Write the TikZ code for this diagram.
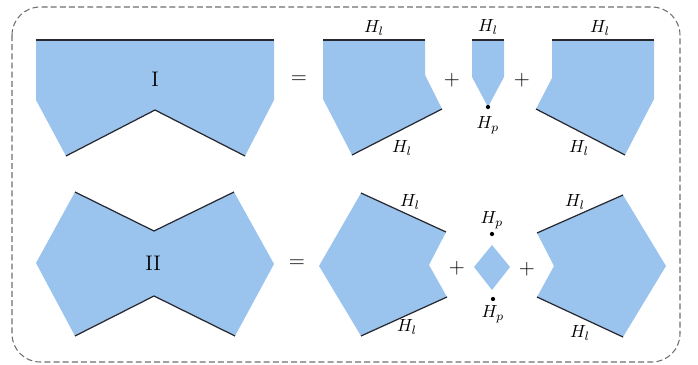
\documentclass[tikz,border=0pt]{standalone}
\usepackage{amsmath}
\definecolor{panefill}{RGB}{154,196,237}
\definecolor{edgegray}{RGB}{40,40,48}
\definecolor{framegray}{RGB}{110,110,110}
\tikzset{
  piece/.style={fill=panefill,draw=none},
  edge/.style={draw=edgegray,line width=0.7pt},
  pt/.style={fill=black},
  op/.style={font=\large}
}

\begin{document}
\begin{tikzpicture}[x=0.02cm,y=-0.02cm]
\useasboundingbox (0,0) rectangle (698,365);
% 虚线外框
\draw[framegray,line width=0.6pt,dash pattern=on 3.4pt off 1.8pt,rounded corners=16pt]
  (12,7) rectangle (680,362);
% ---------- 第一行 ----------
\fill[piece] (36,40) -- (274,40) -- (274,100) -- (245,156) -- (155,110) -- (66,156) -- (36,100) -- cycle;
\draw[edge] (36,40) -- (274,40);
\draw[edge] (66,156) -- (155,110) -- (245,156);
\node[font=\large] (numI) at (155,79) {I};
\node[op] (eqI) at (299,80) {$=$};
% 左块
\fill[piece] (323,40) -- (425,40) -- (425,75) -- (442,109) -- (352,155) -- (323,99) -- cycle;
\draw[edge] (323,40) -- (425,40);
\draw[edge] (442,109) -- (352,155);
\node (hIa) at (374,28) {$H_l$};
\node (hIb) at (402,148) {$H_l$};
\node[op] (plusIa) at (452,80) {$+$};
% 中块
\fill[piece] (472,40) -- (504,40) -- (504,77) -- (488,107) -- (472,77) -- cycle;
\draw[edge] (472,40) -- (504,40);
\fill[pt] (488,107) circle (1.2pt);
\node (hIc) at (488,27) {$H_l$};
\node (hpI) at (488,125) {$H_p$};
\node[op] (plusIb) at (522,80) {$+$};
% 右块
\fill[piece] (552,40) -- (654,40) -- (654,99) -- (625,155) -- (536,109) -- (552,78) -- cycle;
\draw[edge] (552,40) -- (654,40);
\draw[edge] (536,109) -- (625,155);
\node (hId) at (600,28) {$H_l$};
\node (hIe) at (579,148) {$H_l$};
% ---------- 第二行 ----------
\fill[piece] (36,263) -- (75,192) -- (154,231) -- (234,192) -- (274,264) -- (235,336) -- (154,296) -- (75,336) -- cycle;
\draw[edge] (75,192) -- (154,231) -- (234,192);
\draw[edge] (75,336) -- (154,296) -- (235,336);
\node[font=\large] (numII) at (153,263) {II};
\node[op] (eqII) at (297,264) {$=$};
% 左块
\fill[piece] (319,266) -- (361,193) -- (446,232) -- (429,265) -- (447,297) -- (361,336) -- cycle;
\draw[edge] (361,193) -- (446,232);
\draw[edge] (447,297) -- (361,336);
\node (hIIa) at (410,202) {$H_l$};
\node (hIIb) at (407,327) {$H_l$};
\node[op] (plusIIa) at (457,268) {$+$};
% 菱形
\fill[piece] (492,245) -- (510,267) -- (492,290) -- (474,267) -- cycle;
\fill[pt] (492,234) circle (1.2pt);
\fill[pt] (493,299) circle (1.2pt);
\node (hpIIa) at (492,220) {$H_p$};
\node (hpIIb) at (493,314) {$H_p$};
\node[op] (plusIIb) at (527,269) {$+$};
% 右块
\fill[piece] (537,233) -- (623,195) -- (666,266) -- (623,337) -- (537,297) -- (554,266) -- cycle;
\draw[edge] (537,233) -- (623,195);
\draw[edge] (537,297) -- (623,337);
\node (hIIc) at (575,202) {$H_l$};
\node (hIId) at (580,333) {$H_l$};
\end{tikzpicture}
\end{document}
